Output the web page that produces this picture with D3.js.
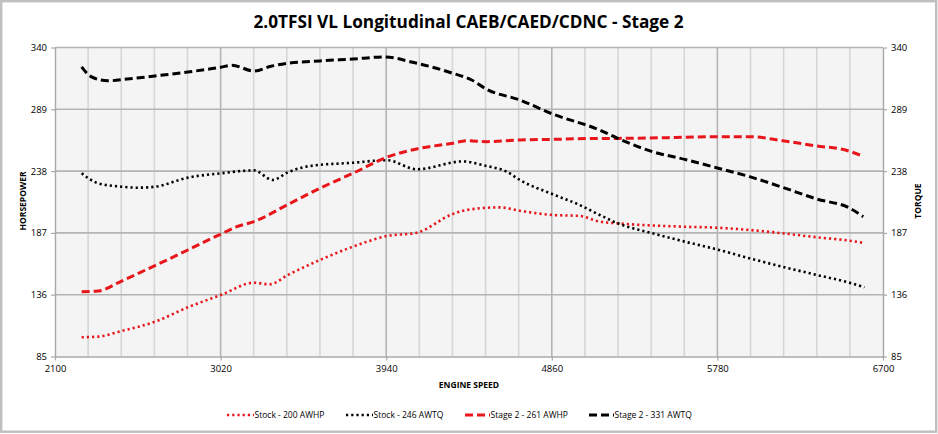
<!DOCTYPE html>
<html>
<head>
<meta charset="utf-8">
<script src="https://cdn.jsdelivr.net/npm/d3@7"></script>
<style>
  body { margin: 0; background: #fff; }
  text { font-family: "Open Sans", sans-serif; fill: #000; }
</style>
</head>
<body>
<script>

// x axis ticks (rpm) and y ticks (hp / torque share the same numbers)
let xTicks = [2100, 3020, 3940, 4860, 5780, 6700]
let yTicks = [85, 136, 187, 238, 289, 340]

// Stock - 200 AWHP
let stockHpRpm = [2248, 2339, 2470, 2655, 2838, 3022, 3205, 3294, 3394, 3571, 3755, 3943, 4110, 4310, 4387, 4571, 4682, 4865, 5015, 5126, 5226, 5598, 5775, 5959, 6142, 6331, 6514, 6586]
let stockHp = [100.9, 101.4, 106, 113.7, 125.6, 135.8, 145.9, 144.6, 152.3, 164.6, 175.6, 184.4, 187.2, 202.6, 205.9, 208.1, 205.3, 201.8, 201, 196.3, 194.9, 192.1, 191.3, 189.4, 186.7, 183.4, 180.6, 178.9]

// Stock - 246 AWTQ
let stockTqRpm = [2248, 2339, 2470, 2561, 2655, 2838, 3022, 3205, 3310, 3394, 3516, 3755, 3943, 4110, 4365, 4498, 4610, 4682, 4865, 5015, 5126, 5226, 5420, 5598, 5775, 5959, 6142, 6331, 6514, 6597]
let stockTq = [236.2, 228, 225.1, 224.3, 225.1, 232.6, 236.2, 238.6, 230.7, 237, 242.2, 244.9, 247, 239.5, 246, 242.2, 237.5, 230.7, 218.9, 210, 201.8, 194.9, 186.7, 179.8, 173.5, 166, 159.1, 152.3, 145.9, 142.1]

// Stage 2 - 261 AWHP
let stage2HpRpm = [2248, 2339, 2470, 2655, 2838, 3022, 3110, 3205, 3388, 3571, 3755, 3943, 4126, 4310, 4387, 4498, 4682, 4865, 5126, 5226, 5598, 5775, 5959, 6142, 6331, 6475, 6586]
let stage2Hp = [138.5, 139, 147.3, 160, 172.9, 186.1, 192.1, 196.3, 210, 223.8, 236.2, 249.4, 256.8, 261, 263.1, 262.3, 263.7, 264.2, 265, 265, 265.9, 266.4, 266.4, 263.1, 258.7, 256, 250.5]

// Stage 2 - 331 AWTQ
let stage2TqRpm = [2248, 2300, 2394, 2500, 2655, 2838, 3022, 3083, 3205, 3300, 3394, 3571, 3755, 3932, 4088, 4310, 4415, 4498, 4682, 4865, 5126, 5226, 5420, 5598, 5775, 5959, 6142, 6331, 6514, 6590]
let stage2Tq = [324, 316, 312.5, 314, 316.5, 319.8, 323.7, 325.4, 320.6, 324.5, 327, 328.9, 330.5, 332.2, 327.8, 318.7, 313.2, 305.5, 296.7, 285.1, 271.9, 265.1, 254, 247.7, 240.8, 233.4, 224.6, 215, 207.5, 200.4]

let seriesNames = ['Stock - 200 AWHP', 'Stock - 246 AWTQ', 'Stage 2 - 261 AWHP', 'Stage 2 - 331 AWTQ']

let width = 938
let height = 434
let red = '#e8161b'

let series = [
    {name: seriesNames[0], rpm: stockHpRpm, vals: stockHp, color: red, dash: '2.2 3', w: 2.6},
    {name: seriesNames[1], rpm: stockTqRpm, vals: stockTq, color: '#000', dash: '2.2 3', w: 2.6},
    {name: seriesNames[2], rpm: stage2HpRpm, vals: stage2Hp, color: red, dash: '8 4', w: 3},
    {name: seriesNames[3], rpm: stage2TqRpm, vals: stage2Tq, color: '#000', dash: '8 4', w: 3}
]

let svg = d3.select('body')
            .append('svg')
            .attr('width', width)
            .attr('height', height)

// outer frame
svg.append('rect')
    .attr('x', 1.2).attr('y', 1.2)
    .attr('width', 935).attr('height', 430.5)
    .attr('fill', '#fff')
    .attr('stroke', '#bfbfbf')
    .attr('stroke-width', 2.4)

let xScale = d3.scaleLinear()
                .domain([2100, 6700])
                .range([55, 883])

let yScale = d3.scaleLinear()
                .domain([85, 340])
                .range([356.5, 47.5])

// plot background
svg.append('rect')
    .attr('x', xScale(2100))
    .attr('y', yScale(340))
    .attr('width', xScale(6700) - xScale(2100))
    .attr('height', yScale(85) - yScale(340))
    .attr('fill', '#f4f4f4')

// minor vertical grid every 184 rpm
let minor = d3.range(2100 + 184, 6700, 184).filter(v => !xTicks.includes(v))
svg.append('g')
    .selectAll('line')
    .data(minor)
    .enter()
    .append('line')
    .attr('x1', d => xScale(d)).attr('x2', d => xScale(d))
    .attr('y1', yScale(340)).attr('y2', yScale(85))
    .attr('stroke', '#d6d6d6')
    .attr('stroke-width', 1.6)

// major vertical grid
svg.append('g')
    .selectAll('line')
    .data(xTicks.slice(1, -1))
    .enter()
    .append('line')
    .attr('x1', d => xScale(d)).attr('x2', d => xScale(d))
    .attr('y1', yScale(340)).attr('y2', yScale(85))
    .attr('stroke', '#b4b4b4')
    .attr('stroke-width', 1.6)

// horizontal grid
svg.append('g')
    .selectAll('line')
    .data(yTicks.slice(1))
    .enter()
    .append('line')
    .attr('x1', xScale(2100)).attr('x2', xScale(6700))
    .attr('y1', d => yScale(d)).attr('y2', d => yScale(d))
    .attr('stroke', '#b4b4b4')
    .attr('stroke-width', 1.6)

// axes
let styleAxis = (g) => {
    g.selectAll('.domain').attr('stroke', '#a8a8a8').attr('stroke-width', 1.4)
    g.selectAll('.tick line').attr('stroke', '#a8a8a8').attr('stroke-width', 1.2)
    g.selectAll('.tick text')
        .style('font-family', '"Open Sans", sans-serif')
        .style('font-size', '9.5px')
        .attr('fill', '#000')
}

svg.append('g')
    .attr('transform', 'translate(' + xScale(2100) + ',0)')
    .call(d3.axisLeft(yScale).tickValues(yTicks).tickSize(4).tickSizeOuter(0).tickPadding(4))
    .call(styleAxis)

svg.append('g')
    .attr('transform', 'translate(' + xScale(6700) + ',0)')
    .call(d3.axisRight(yScale).tickValues(yTicks).tickSize(4).tickSizeOuter(0).tickPadding(4))
    .call(styleAxis)

svg.append('g')
    .attr('transform', 'translate(0,' + yScale(85) + ')')
    .call(d3.axisBottom(xScale).tickValues(xTicks).tickFormat(d3.format('d')).tickSize(4).tickSizeOuter(0).tickPadding(5))
    .call(styleAxis)

// lines
let line = d3.line()
            .x(d => xScale(d[0]))
            .y(d => yScale(d[1]))
            .curve(d3.curveMonotoneX)

svg.append('g')
    .selectAll('path')
    .data(series)
    .enter()
    .append('path')
    .attr('d', s => line(s.rpm.map((r, i) => [r, s.vals[i]])))
    .attr('fill', 'none')
    .attr('stroke', s => s.color)
    .attr('stroke-width', s => s.w)
    .attr('stroke-dasharray', s => s.dash)

// titles
svg.append('text')
    .attr('x', 468.5)
    .attr('y', 28)
    .attr('text-anchor', 'middle')
    .attr('textLength', 430)
    .attr('lengthAdjust', 'spacingAndGlyphs')
    .style('font-size', '17.5px')
    .style('font-weight', 'bold')
    .text('2.0TFSI VL Longitudinal CAEB/CAED/CDNC - Stage 2')

svg.append('text')
    .attr('x', 469)
    .attr('y', 388)
    .attr('text-anchor', 'middle')
    .style('font-size', '8.5px')
    .style('font-weight', 'bold')
    .text('ENGINE SPEED')

svg.append('text')
    .attr('transform', 'translate(26,201) rotate(-90)')
    .attr('text-anchor', 'middle')
    .style('font-size', '8.5px')
    .style('font-weight', 'bold')
    .text('HORSEPOWER')

svg.append('text')
    .attr('transform', 'translate(921,201) rotate(-90)')
    .attr('text-anchor', 'middle')
    .style('font-size', '8.5px')
    .style('font-weight', 'bold')
    .text('TORQUE')

// legend
let legendX = [227, 346, 465, 589]
let legend = svg.append('g')
                .selectAll('g')
                .data(series)
                .enter()
                .append('g')
                .attr('transform', (s, i) => 'translate(' + legendX[i] + ',415)')

legend.append('line')
    .attr('x1', 0).attr('x2', (s, i) => i < 2 ? 27 : 25)
    .attr('y1', 0).attr('y2', 0)
    .attr('stroke', s => s.color)
    .attr('stroke-width', s => s.w)
    .attr('stroke-dasharray', s => s.dash)

legend.append('text')
    .attr('x', (s, i) => i < 2 ? 27.5 : 25.5)
    .attr('y', 3.3)
    .style('font-size', '8.5px')
    .text(s => s.name)

</script>
</body>
</html>
